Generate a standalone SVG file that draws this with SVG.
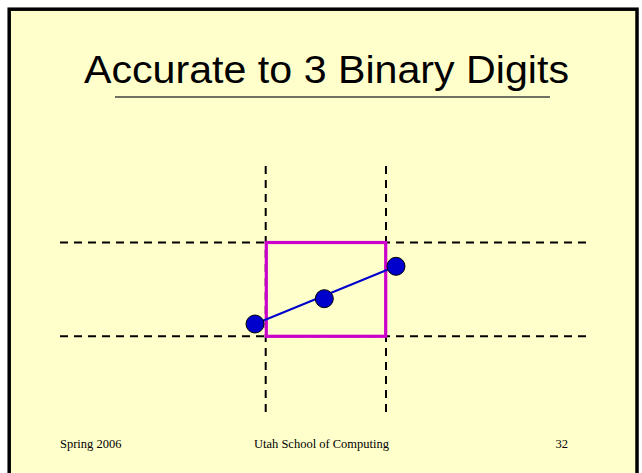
<svg xmlns="http://www.w3.org/2000/svg" width="642" height="473" viewBox="0 0 642 473">
<style>
.dash{stroke:#000;stroke-width:2;stroke-dasharray:8 6;fill:none}
.pt{fill:#0000CC;stroke:#000;stroke-width:1}
.foot{font-family:"Liberation Serif",serif;font-size:12.5px;fill:#000}
</style>
<rect x="0" y="0" width="642" height="473" fill="#ffffff"/>
<g id="slide">
<rect x="9.2" y="9.2" width="627.8" height="480" fill="#FFFFCC" stroke="#000" stroke-width="3.5"/>
</g>
<g id="title">
<text x="84" y="83" font-family="Liberation Sans, Arial, sans-serif" font-size="38" textLength="485" lengthAdjust="spacingAndGlyphs" fill="#000">Accurate to 3 Binary Digits</text>
<line x1="115" y1="97" x2="550" y2="97" stroke="#404040" stroke-width="1.5"/>
</g>
<g id="grid">
<line class="dash" x1="60" y1="242.5" x2="588" y2="242.5"/>
<line class="dash" x1="60" y1="336.3" x2="588" y2="336.3"/>
<line class="dash" x1="265.7" y1="166" x2="265.7" y2="412"/>
<line class="dash" x1="386" y1="166" x2="386" y2="412"/>
</g>
<g id="box">
<rect x="266.3" y="242.5" width="119.4" height="93.8" fill="none" stroke="#CC00CC" stroke-width="3.2"/>
</g>
<g id="connectors">
<line x1="255" y1="324" x2="396" y2="266.3" stroke="#0000CC" stroke-width="2"/>
</g>
<g id="p1"><circle class="pt" cx="255" cy="324" r="9"/></g>
<g id="p2"><circle class="pt" cx="324.3" cy="298.7" r="9"/></g>
<g id="p3"><circle class="pt" cx="396" cy="266.3" r="9"/></g>
<g id="footer">
<text class="foot" x="60" y="448">Spring 2006</text>
<text class="foot" x="321.5" y="448" text-anchor="middle">Utah School of Computing</text>
<text class="foot" x="568" y="448" text-anchor="end">32</text>
</g>
</svg>
